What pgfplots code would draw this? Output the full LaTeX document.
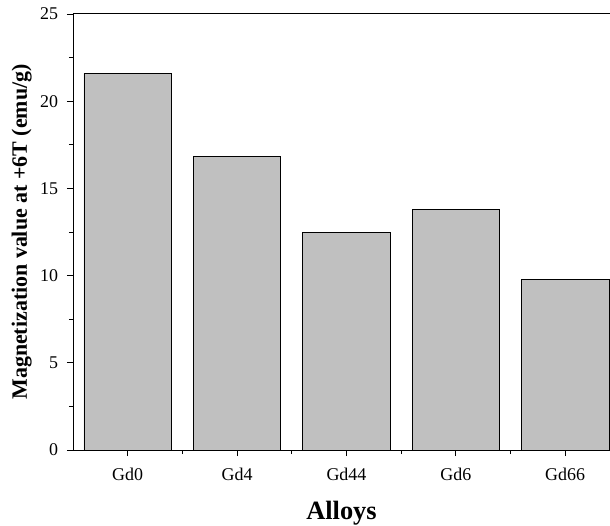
\documentclass[border=0pt]{standalone}
\usepackage{fontspec}
\setmainfont{Liberation Serif}
\usepackage{pgfplots}
\pgfplotsset{compat=1.18}
\definecolor{barfill}{RGB}{192,192,192}
\begin{document}
\begin{tikzpicture}
\begin{axis}[
  scale only axis,
  width=537bp, height=436bp,
  xmin=-0.5, xmax=4.41,
  ymin=0, ymax=25,
  axis x line*=bottom,
  axis y line*=left,
  axis line style={line width=1pt},
  xtick={0,1,2,3,4},
  xticklabels={Gd0,Gd4,Gd44,Gd6,Gd66},
  minor xtick={0.5,1.5,2.5,3.5},
  ytick={0,5,10,15,20,25},
  minor ytick={2.5,7.5,12.5,17.5,22.5},
  tick align=outside,
  major tick length=6bp,
  minor tick length=4bp,
  tick style={black, line width=0.9pt},
  ticklabel style={font=\fontsize{18}{20}\selectfont},
  xticklabel style={yshift=-8.5bp},
  yticklabel style={xshift=-5.5bp},
  /pgf/number format/assume math mode=true,
  xlabel={\textbf{Alloys}},
  ylabel={\textbf{Magnetization value at +6T (emu/g)}},
  xlabel style={font=\fontsize{26.5}{28}\selectfont, yshift=-14bp},
  ylabel style={font=\fontsize{22}{24}\selectfont, yshift=1.5bp},
  clip=false,
]
\addplot[ybar, bar width=0.8, fill=barfill, draw=black, line width=0.8pt]
  coordinates {(0,21.6) (1,16.85) (2,12.47) (3,13.78) (4,9.8)};
\draw[line width=1pt] (rel axis cs:0,1) -- (rel axis cs:1,1);
\coordinate (bbll) at ([xshift=-73bp,yshift=-76bp]rel axis cs:0,0);
\coordinate (bbur) at ([yshift=14bp]rel axis cs:1,1);
\end{axis}
\pgfresetboundingbox
\path (bbll) rectangle (bbur);
\end{tikzpicture}
\end{document}
